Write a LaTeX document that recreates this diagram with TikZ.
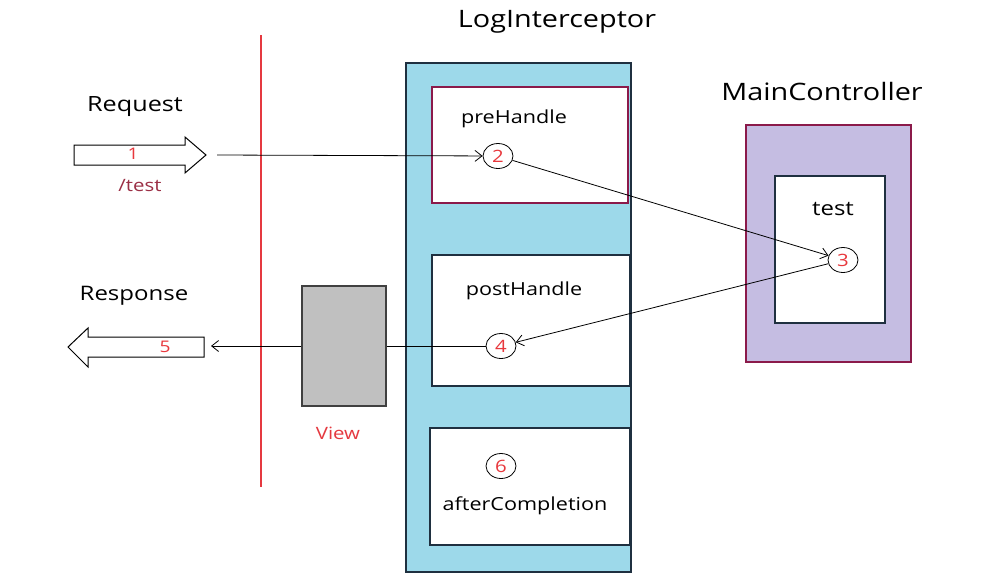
\documentclass[tikz,border=0pt]{standalone}
\usepackage{fontspec}
\setmainfont[FakeStretch=1.2]{Open Sans}
\usetikzlibrary{arrows.meta,shapes.geometric}
\definecolor{numred}{HTML}{E8383D}
\definecolor{darkred}{HTML}{9B2F45}
\definecolor{boxred}{HTML}{8B1A4A}
\definecolor{lineRed}{HTML}{E53940}
\definecolor{lblue}{HTML}{9DD9EA}
\definecolor{dborder}{HTML}{1F3040}
\definecolor{lpurple}{HTML}{C5BDE2}
\definecolor{vgray}{HTML}{C0C0C0}
\tikzset{
  title/.style={font=\fontsize{24}{28}\selectfont, text=black},
  label/.style={font=\fontsize{18}{21}\selectfont, text=black},
  num/.style={ellipse, draw=black, line width=0.8pt, fill=white, minimum width=30pt, minimum height=25pt, inner sep=0pt, text=numred, font=\fontsize{17}{19}\selectfont},
  conn/.style={draw=black, line width=0.8pt, -{Straight Barb[length=7pt,width=11pt]}},
  wbox/.style={draw=dborder, fill=white, line width=1.3pt},
  bigarrow/.style={draw=black, fill=white, line width=1pt, line join=miter},
}
\begin{document}
\begin{tikzpicture}[x=1pt,y=-1pt]
\useasboundingbox[fill=white] (0,0) rectangle (1008,582);
% red boundary line
\draw[lineRed, line width=1.2pt] (261,35) -- (261,487);
% LogInterceptor
\node[title] (logt) at (557,22) {LogInterceptor};
\fill[lblue, draw=dborder, line width=1.3pt] (406,63) rectangle (631,572);
\node[wbox, draw=boxred, minimum width=196pt, minimum height=116pt] (pre) at (530,145) {};
\node[label] (pret) at (514,119) {preHandle};
\node[wbox, minimum width=198pt, minimum height=131pt] (post) at (531,320.5) {};
\node[label] (postt) at (524,291) {postHandle};
\node[wbox, minimum width=200pt, minimum height=117pt] (after) at (530,486.5) {};
\node[label] (aftert) at (525,506) {afterCompletion};
% MainController
\node[title] (mct) at (822,91) {MainController};
\node[draw=boxred, fill=lpurple, line width=1.3pt, minimum width=165pt, minimum height=237pt] (mc) at (828.5,243.5) {};
\node[wbox, minimum width=110pt, minimum height=147pt] (testb) at (830,249.5) {};
\node[label, font=\fontsize{20}{24}\selectfont] (testt) at (833,209) {test};
% circles
\node[num] (c2) at (498,156) {2};
\node[num] (c3) at (843,260) {3};
\node[num] (c4) at (501,346) {4};
\node[num] (c6) at (501,466) {6};
% Request
\node[font=\fontsize{21}{24}\selectfont] (reqt) at (135,107) {Request};
\draw[bigarrow] (74,145) -- (185,145) -- (185,137) -- (206,155) -- (185,173) -- (185,165) -- (74,165) -- cycle;
\node[text=numred, font=\fontsize{16}{18}\selectfont] (n1) at (133,154) {1};
\node[text=darkred, font=\fontsize{17}{20}\selectfont] (path) at (140,186) {/test};
\coordinate (reqtip) at (217,155);
% Response
\node[font=\fontsize{20}{24}\selectfont] (respt) at (134,296) {Response};
\draw[bigarrow] (204,337) -- (88,337) -- (88,328) -- (68,347) -- (88,367) -- (88,357) -- (204,357) -- cycle;
\node[text=numred, font=\fontsize{16}{18}\selectfont] (n5) at (165,347) {5};
\coordinate (resptail) at (211,346);
% View
\node[draw=black!75, fill=vgray, line width=1.3pt, minimum width=84pt, minimum height=120pt] (view) at (344,346) {};
\node[text=lineRed, font=\fontsize{17}{20}\selectfont] (viewt) at (338,433) {View};
% connectors
\draw[conn] (reqtip) -- (c2);
\draw[conn] (c2) -- (c3);
\draw[conn] (c3) -- (c4);
\draw[line width=0.8pt] (c4) -- (view.east);
\draw[conn] (view.west) -- (resptail);
\end{tikzpicture}
\end{document}
